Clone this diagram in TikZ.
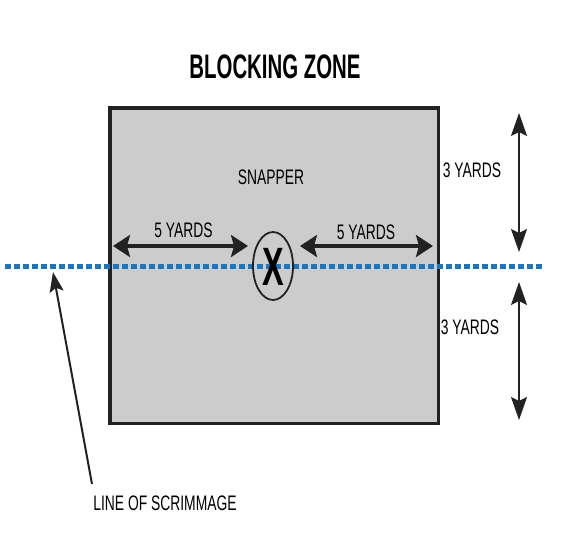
\documentclass[tikz,border=0pt]{standalone}
\usepackage{fontspec}
\setmainfont{Liberation Sans}
\newfontfamily\narrowfont{Liberation Sans}[FakeStretch=0.66]
\newfontfamily\titlefont{Liberation Sans}[FakeStretch=0.6]
\usetikzlibrary{arrows.meta,shapes.geometric}
\definecolor{scrimblue}{RGB}{31,117,188}
\definecolor{zonegray}{RGB}{204,204,204}
\definecolor{inkblack}{RGB}{34,34,34}

\begin{document}
\begin{tikzpicture}[x=1pt, y=-1pt,
    label text/.style={font=\narrowfont\fontsize{21}{23}\selectfont, inner sep=0pt},
    yard arrow/.style={{Stealth[length=17pt,width=22pt,inset=3pt]}-{Stealth[length=17pt,width=22pt,inset=3pt]}, line width=3.2pt, draw=inkblack},
    side arrow/.style={{Stealth[length=23pt,width=16pt,inset=4pt]}-{Stealth[length=23pt,width=16pt,inset=4pt]}, line width=2pt, draw=inkblack}]
    \useasboundingbox (0,0) rectangle (567,555);

    % Title
    \node[font=\titlefont\bfseries\fontsize{34}{36}\selectfont, inner sep=0pt] (title) at (275,67) {BLOCKING ZONE};

    % Blocking zone
    \node[draw=inkblack, line width=3.5pt, fill=zonegray, minimum width=328.5pt, minimum height=315.5pt, inner sep=0pt] (zone) at (274,265.5) {};

    % Line of scrimmage
    \coordinate (los west) at (5,266);
    \coordinate (los east) at (543,266);
    \draw[scrimblue, line width=5pt, dash pattern=on 5.5pt off 3.5pt] (los west) -- (los east);

    % Snapper
    \node[draw=inkblack, ellipse, line width=1.8pt, minimum width=40pt, minimum height=68pt, inner sep=0pt] (snapper) at (273,266) {};
    \node[font=\titlefont\bfseries\fontsize{54}{54}\selectfont, inner sep=0pt] (xmark) at (273,267) {X};
    \node[label text] (snapper label) at (271,177) {SNAPPER};

    % Five yards each side
    \coordinate (left outer) at (113,246);
    \coordinate (left inner) at (248,246);
    \coordinate (right inner) at (300,246);
    \coordinate (right outer) at (433,246);
    \draw[yard arrow] (left outer) -- (left inner);
    \draw[yard arrow] (right inner) -- (right outer);
    \node[label text] (left yards) at (183.5,230) {5 YARDS};
    \node[label text] (right yards) at (366,232) {5 YARDS};

    % Three yards up and down
    \coordinate (upper top) at (519,113);
    \coordinate (upper bottom) at (519,252);
    \coordinate (lower top) at (519,282);
    \coordinate (lower bottom) at (519,420);
    \draw[side arrow] (upper top) -- (upper bottom);
    \draw[side arrow] (lower top) -- (lower bottom);
    \node[label text] (upper yards) at (472,170) {3 YARDS};
    \node[label text] (lower yards) at (470,327) {3 YARDS};

    % Pointer to the line
    \coordinate (pointer tip) at (53,272);
    \coordinate (pointer tail) at (92,484);
    \draw[-{Stealth[length=20pt,width=14pt,inset=4pt]}, line width=2pt, draw=inkblack] (pointer tail) -- (pointer tip);
    \node[label text] (los label) at (165,503) {LINE OF SCRIMMAGE};
\end{tikzpicture}
\end{document}
